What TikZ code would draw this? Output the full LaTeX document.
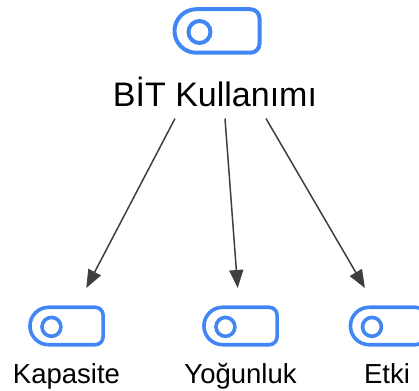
\documentclass[tikz,border=0pt]{standalone}
\usepackage{fontspec}
\setmainfont{Liberation Sans}
\usetikzlibrary{positioning,arrows.meta}
\definecolor{chipblue}{HTML}{4285F4}
\definecolor{linkgray}{HTML}{3F3F3F}
\tikzstyle{toplabel} = [
inner sep=11pt,
anchor=base,
font=\fontsize{34}{40}\selectfont
]
\tikzstyle{sublabel} = [
inner sep=2pt,
anchor=base,
font=\fontsize{27.5}{33}\selectfont
]
\tikzstyle{chipbig} = [
line width=4pt
]
\tikzstyle{chipsmall} = [
scale=0.86,
line width=3.6pt
]
\tikzstyle{link} = [
line width=1.5pt,
draw=linkgray,
-{Triangle[length=18pt,width=14pt]}
]
\tikzset{
chip/.pic={
  \draw[chipblue,line join=round] (-20.75pt,21.75pt) -- (33.5pt,21.75pt)
    arc[start angle=90,end angle=0,radius=9pt] -- (42.5pt,-12.75pt)
    arc[start angle=0,end angle=-90,radius=9pt] -- (-20.75pt,-21.75pt)
    arc[start angle=270,end angle=90,radius=21.75pt] -- cycle;
  \draw[chipblue] (-17.5pt,-1pt) circle[radius=11pt];
  \node[inner sep=0pt,minimum width=75pt,minimum height=42pt,outer xsep=0pt,outer ysep=17pt] (-box) {};
}
}

\begin{document}
\begin{tikzpicture}[x=1pt,y=-1pt]
\useasboundingbox (0,0) rectangle (419,390);
%Nodes
\pic[chipbig] (bit) at (217,31) {chip};
\node[toplabel] (root) at (215,107) {BİT Kullanımı};
\pic[chipsmall] (kap) at (66.5,326) {chip};
\pic[chipsmall] (yog) at (240.5,326) {chip};
\pic[chipsmall] (etk) at (387,326) {chip};
\node[sublabel] (kaplbl) at (66.5,383) {Kapasite};
\node[sublabel] (yoglbl) at (240.5,383) {Yoğunluk};
\node[sublabel] (etklbl) at (387,383) {Etki};
%Arrows
\draw[link] ([xshift=-40pt]root.south) -- (kap-box);
\draw[link] ([xshift=10pt]root.south) -- (yog-box);
\draw[link] ([xshift=51pt]root.south) -- (etk-box);
\end{tikzpicture}
\end{document}
